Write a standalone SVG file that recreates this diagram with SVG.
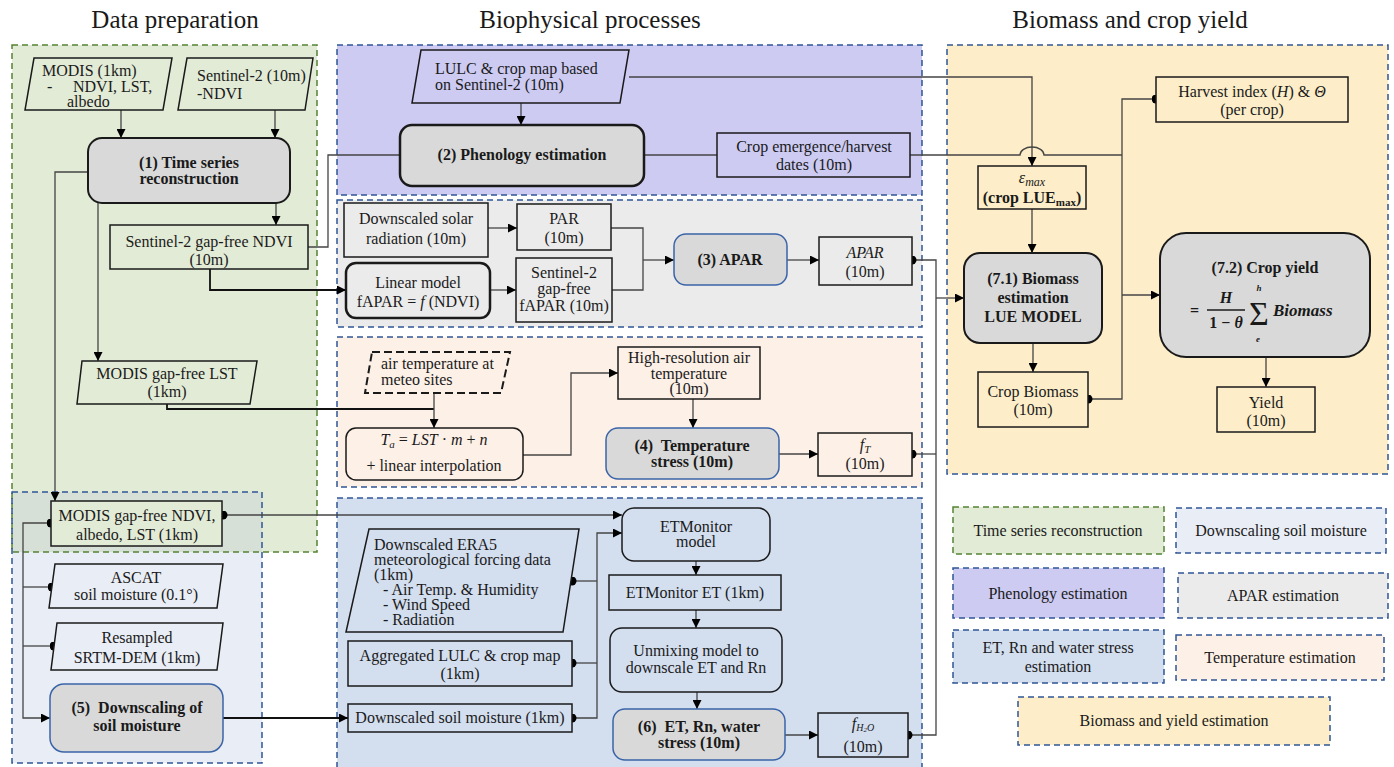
<svg xmlns="http://www.w3.org/2000/svg" width="1394" height="767" viewBox="0 0 1394 767">
<defs>
<style>
text{font-family:"Liberation Serif","Times New Roman",serif;font-size:16px;fill:#1a1a1a}
.hd{font-size:25px}
.c{text-anchor:middle}
.b{font-weight:bold}
.i{font-style:italic}
.grp{stroke-dasharray:6 4;stroke-width:1.5}
.gb{stroke:#2f5597}
.gg{stroke:#548235}
.nd{stroke:#1a1a1a;stroke-width:1.5}
.pr{fill:#d9d9d9;stroke:#1a1a1a;stroke-width:2}
.pb{fill:#d9d9d9;stroke:#3a64a8;stroke-width:1.5}
.cn{fill:none;stroke:#444;stroke-width:1.3}
.ck{fill:none;stroke:#111;stroke-width:1.8}
.green{fill:#e2ebd6}.soil{fill:#e9edf5}.purp{fill:#cdcbf2}.grey{fill:#ebebeb}.peach{fill:#fdf0e7}.etb{fill:#d3deef}.yel{fill:#fdeec9}
</style>
<marker id="arr" viewBox="0 0 10 10" refX="10" refY="5" markerWidth="10" markerHeight="9" markerUnits="userSpaceOnUse" orient="auto"><path d="M0,0 L10,5 L0,10 z" fill="#000"/></marker>
<marker id="dot" viewBox="0 0 10 10" refX="5" refY="5" markerWidth="9" markerHeight="9" markerUnits="userSpaceOnUse"><circle cx="5" cy="5" r="5" fill="#000"/></marker>
</defs>
<rect width="1394" height="767" fill="#fff"/>

<g id="headers">
<text class="hd c" x="175" y="28">Data preparation</text>
<text class="hd c" x="590" y="28">Biophysical processes</text>
<text class="hd c" x="1130" y="28">Biomass and crop yield</text>
</g>

<g id="groups">
<rect class="green" x="12" y="45" width="305" height="507"/>
<rect class="soil" x="12" y="552" width="250" height="211"/>
<rect x="12" y="492" width="250" height="60" fill="#d6e0d6"/>
<rect class="green grp gg" x="12" y="45" width="305" height="507" fill-opacity="0"/>
<rect class="grp gb" x="12" y="492" width="250" height="271" fill="none"/>
<rect class="purp grp gb" x="337" y="45" width="585" height="150"/>
<rect class="grey grp gb" x="337" y="200" width="585" height="127"/>
<rect class="peach grp gb" x="337" y="337" width="585" height="150"/>
<rect class="etb grp gb" x="337" y="498" width="585" height="280"/>
<rect class="yel grp gb" x="947" y="45" width="441" height="429"/>
</g>

<g id="connectors">
<path class="cn" d="M121 110V138" marker-end="url(#arr)"/>
<path class="cn" d="M275 110V138" marker-end="url(#arr)"/>
<path class="cn" d="M276 203V225" marker-end="url(#arr)"/>
<path class="cn" d="M88 172H55V501" marker-end="url(#arr)"/>
<path class="cn" d="M98 203V361" marker-end="url(#arr)"/>
<path class="ck" d="M167 404V409H434"/>
<path class="cn" d="M434 393V428" marker-end="url(#arr)"/>
<path class="cn" d="M308 247H328V155H400"/>
<path class="ck" d="M210 269V290H346" marker-end="url(#arr)"/>
<path class="cn" d="M521 103V125" marker-end="url(#arr)"/>
<path class="cn" d="M629 77H1032V166" marker-end="url(#arr)"/>
<path class="cn" d="M644 155H717"/>
<path class="cn" d="M910 155H1020A12 8 0 0 1 1044 155H1122"/>
<path class="cn" d="M1156 99H1122V399H1088" marker-start="url(#dot)" marker-end="url(#dot)"/>
<path class="cn" d="M1122 295H1160" marker-end="url(#arr)"/>
<path class="cn" d="M1032 209V253" marker-end="url(#arr)"/>
<path class="cn" d="M1033 343V372" marker-end="url(#arr)"/>
<path class="cn" d="M1266 357V387" marker-end="url(#arr)"/>
<path class="cn" d="M912 260H936V735H908" marker-start="url(#dot)" marker-end="url(#dot)"/>
<path class="cn" d="M912 454H936" marker-start="url(#dot)"/>
<path class="cn" d="M936 298H964" marker-end="url(#arr)"/>
<path class="cn" d="M488 228H517" marker-end="url(#arr)"/>
<path class="cn" d="M490 290H516" marker-end="url(#arr)"/>
<path class="cn" d="M611 228H643V290H612"/>
<path class="cn" d="M643 260H674" marker-end="url(#arr)"/>
<path class="cn" d="M787 260H819" marker-end="url(#arr)"/>
<path class="cn" d="M523 455H571V373H618" marker-end="url(#arr)"/>
<path class="cn" d="M693 399V428" marker-end="url(#arr)"/>
<path class="cn" d="M779 454H818" marker-end="url(#arr)"/>
<path class="cn" d="M223 515H622" marker-start="url(#dot)" marker-end="url(#arr)"/>
<path class="cn" d="M572 581H597" marker-start="url(#dot)"/>
<path class="cn" d="M572 663H597" marker-start="url(#dot)"/>
<path class="cn" d="M572 718H597V533H622" marker-start="url(#dot)" marker-end="url(#arr)"/>
<path class="ck" d="M223 718H348" marker-end="url(#arr)"/>
<path class="cn" d="M696 561V575" marker-end="url(#arr)"/>
<path class="cn" d="M696 610V628" marker-end="url(#arr)"/>
<path class="cn" d="M697 692V709" marker-end="url(#arr)"/>
<path class="cn" d="M785 735H818" marker-end="url(#arr)"/>
<path class="cn" d="M51 523H23V718H50" marker-start="url(#dot)" marker-end="url(#arr)"/>
<path class="cn" d="M23 587H52" marker-end="url(#dot)"/>
<path class="cn" d="M23 646H54" marker-end="url(#dot)"/>
</g>

<g id="n-modis">
<polygon class="green nd" points="34,58 172,58 163,110 25,110"/>
<text x="42" y="76">MODIS (1km)</text>
<text x="47" y="92">-</text><text x="73" y="92">NDVI, LST,</text>
<text x="67" y="107">albedo</text>
</g>
<g id="n-sentinel2">
<polygon class="green nd" points="187,58 313,58 305,110 178,110"/>
<text x="197" y="81">Sentinel-2 (10m)</text>
<text x="197" y="99">-NDVI</text>
</g>
<g id="n-ts">
<rect class="pr" x="88" y="138" width="202" height="65" rx="14"/>
<text class="c b" x="189" y="168">(1) Time series</text>
<text class="c b" x="189" y="184">reconstruction</text>
</g>
<g id="n-s2ndvi">
<rect class="green nd" x="110" y="225" width="198" height="44"/>
<text class="c" x="209" y="247">Sentinel-2 gap-free NDVI</text>
<text class="c" x="209" y="265">(10m)</text>
</g>
<g id="n-lst">
<polygon class="green nd" points="82,361 257,361 250,404 77,404"/>
<text class="c" x="167" y="379">MODIS gap-free LST</text>
<text class="c" x="167" y="397">(1km)</text>
</g>
<g id="n-modisndvi">
<rect class="green nd" x="51" y="501" width="171" height="45"/>
<text class="c" x="137" y="521">MODIS gap-free NDVI,</text>
<text class="c" x="137" y="540">albedo, LST (1km)</text>
</g>
<g id="n-ascat">
<polygon class="soil nd" points="55,564 223,564 217,608 49,608"/>
<text class="c" x="136" y="583">ASCAT</text>
<text class="c" x="136" y="600">soil moisture (0.1°)</text>
</g>
<g id="n-srtm">
<polygon class="soil nd" points="57,623 223,623 217,670 51,670"/>
<text class="c" x="137" y="643">Resampled</text>
<text class="c" x="137" y="663">SRTM-DEM (1km)</text>
</g>
<g id="n-dssm">
<rect class="pb" x="50" y="684" width="173" height="68" rx="14"/>
<text class="c b" x="137" y="713" xml:space="preserve">(5)  Downscaling of</text>
<text class="c b" x="137" y="731">soil moisture</text>
</g>

<g id="n-lulc">
<polygon class="purp nd" points="421,50 629,50 620,103 412,103"/>
<text x="435" y="74">LULC &amp; crop map based</text>
<text x="435" y="90">on Sentinel-2 (10m)</text>
</g>
<g id="n-pheno">
<rect class="pr" x="400" y="125" width="244" height="61" rx="12" style="stroke-width:2.5"/>
<text class="c b" x="522" y="160">(2) Phenology estimation</text>
</g>
<g id="n-cropdates">
<rect class="purp nd" x="717" y="133" width="193" height="44"/>
<text class="c" x="814" y="152">Crop emergence/harvest</text>
<text class="c" x="814" y="170">dates (10m)</text>
</g>

<g id="n-dsr">
<rect class="grey nd" x="344" y="203" width="144" height="54"/>
<text class="c" x="416" y="224">Downscaled solar</text>
<text class="c" x="416" y="244">radiation (10m)</text>
</g>
<g id="n-par">
<rect class="grey nd" x="517" y="204" width="94" height="46"/>
<text class="c" x="564" y="224">PAR</text>
<text class="c" x="564" y="243">(10m)</text>
</g>
<g id="n-linear">
<rect class="grey" x="346" y="263" width="144" height="55" rx="10" style="stroke:#1a1a1a;stroke-width:2.5"/>
<text class="c" x="418" y="288">Linear model</text>
<text class="c" x="418" y="307">fAPAR = <tspan class="i">f</tspan> (NDVI)</text>
</g>
<g id="n-fapar">
<rect class="grey nd" x="516" y="258" width="96" height="64"/>
<text class="c" x="564" y="278">Sentinel-2</text>
<text class="c" x="564" y="294">gap-free</text>
<text class="c" x="564" y="311">fAPAR (10m)</text>
</g>
<g id="n-aparproc">
<rect class="pb" x="674" y="234" width="113" height="51" rx="12"/>
<text class="c b" x="730" y="265">(3) APAR</text>
</g>
<g id="n-apar">
<rect class="grey nd" x="819" y="237" width="93" height="48"/>
<text class="c i" x="865" y="258">APAR</text>
<text class="c" x="865" y="277">(10m)</text>
</g>

<g id="n-airtemp">
<polygon class="peach" points="372,352 510,352 501,393 365,393" style="stroke:#1a1a1a;stroke-width:2;stroke-dasharray:8 4"/>
<text x="381" y="369">air temperature at</text>
<text x="381" y="385">meteo sites</text>
</g>
<g id="n-ta">
<rect class="peach nd" x="346" y="428" width="177" height="52" rx="10"/>
<text class="c" x="434" y="445"><tspan class="i">T</tspan><tspan class="i" font-size="11" dy="3">a</tspan><tspan dy="-3"> = </tspan><tspan class="i">LST</tspan> · <tspan class="i">m</tspan> + <tspan class="i">n</tspan></text>
<text class="c" x="434" y="471">+ linear interpolation</text>
</g>
<g id="n-hires">
<rect class="peach nd" x="618" y="347" width="142" height="52"/>
<text class="c" x="689" y="363">High-resolution air</text>
<text class="c" x="689" y="379">temperature</text>
<text class="c" x="689" y="394">(10m)</text>
</g>
<g id="n-tstress">
<rect class="pb" x="606" y="428" width="173" height="51" rx="12"/>
<text class="c b" x="692" y="451" xml:space="preserve">(4)  Temperature</text>
<text class="c b" x="692" y="467">stress (10m)</text>
</g>
<g id="n-ft">
<rect class="peach nd" x="818" y="433" width="94" height="43"/>
<text class="c" x="865" y="450"><tspan class="i">f</tspan><tspan class="i" font-size="11" dy="3">T</tspan></text>
<text class="c" x="865" y="469">(10m)</text>
</g>

<g id="n-etmodel">
<rect class="etb nd" x="622" y="508" width="148" height="53" rx="12"/>
<text class="c" x="696" y="532">ETMonitor</text>
<text class="c" x="696" y="547">model</text>
</g>
<g id="n-era5">
<polygon class="etb nd" points="369,529 579,529 563,632 346,632"/>
<text x="374" y="550">Downscaled ERA5</text>
<text x="374" y="565">meteorological forcing data</text>
<text x="374" y="580">(1km)</text>
<text x="383" y="595">- Air Temp. &amp; Humidity</text>
<text x="383" y="610">- Wind Speed</text>
<text x="383" y="625">- Radiation</text>
</g>
<g id="n-agglulc">
<rect class="etb nd" x="348" y="641" width="224" height="45"/>
<text class="c" x="460" y="661">Aggregated LULC &amp; crop map</text>
<text class="c" x="460" y="679">(1km)</text>
</g>
<g id="n-dssm1km">
<rect class="etb nd" x="348" y="704" width="224" height="28"/>
<text class="c" x="460" y="723">Downscaled soil moisture (1km)</text>
</g>
<g id="n-etmet">
<rect class="etb nd" x="609" y="575" width="172" height="35"/>
<text class="c" x="695" y="598">ETMonitor ET (1km)</text>
</g>
<g id="n-unmix">
<rect class="etb nd" x="610" y="628" width="172" height="64" rx="12"/>
<text class="c" x="696" y="656">Unmixing model to</text>
<text class="c" x="696" y="673">downscale ET and Rn</text>
</g>
<g id="n-etstress">
<rect class="pb" x="613" y="709" width="172" height="51" rx="12"/>
<text class="c b" x="699" y="732" xml:space="preserve">(6)  ET, Rn, water</text>
<text class="c b" x="699" y="748">stress (10m)</text>
</g>
<g id="n-fh2o">
<rect class="etb nd" x="818" y="713" width="90" height="44"/>
<text class="c" x="863" y="729"><tspan class="i">f</tspan><tspan class="i" font-size="10" dy="2">H</tspan><tspan class="i" font-size="7" dy="1">2</tspan><tspan class="i" font-size="10" dy="-1">O</tspan></text>
<text class="c" x="863" y="752">(10m)</text>
</g>

<g id="n-harvest">
<rect class="yel nd" x="1156" y="77" width="192" height="45"/>
<text class="c" x="1252" y="97">Harvest index (<tspan class="i">H</tspan>) &amp; <tspan class="i">Θ</tspan></text>
<text class="c" x="1252" y="115">(per crop)</text>
</g>
<g id="n-eps">
<rect class="yel nd" x="978" y="166" width="108" height="43"/>
<text class="c" x="1032" y="183"><tspan class="i">ε</tspan><tspan class="i" font-size="12" dy="3">max</tspan></text>
<text class="c b" x="1032" y="203">(crop LUE<tspan font-size="11" dy="3">max</tspan><tspan dy="-3">)</tspan></text>
</g>
<g id="n-biomass">
<rect class="pr" x="964" y="253" width="138" height="90" rx="16"/>
<text class="c b" x="1033" y="284">(7.1) Biomass</text>
<text class="c b" x="1033" y="303">estimation</text>
<text class="c b" x="1033" y="322">LUE MODEL</text>
</g>
<g id="n-cropbiomass">
<rect class="yel nd" x="978" y="372" width="110" height="55"/>
<text class="c" x="1033" y="397">Crop Biomass</text>
<text class="c" x="1033" y="415">(10m)</text>
</g>
<g id="n-yieldproc">
<rect class="pr" x="1160" y="233" width="210" height="124" rx="26"/>
<text class="c b" x="1265" y="273">(7.2) Crop yield</text>
<text x="1190" y="316" class="b">=</text>
<text class="c b i" x="1226" y="303">H</text>
<line x1="1207" y1="310" x2="1245" y2="310" stroke="#1a1a1a" stroke-width="1.3"/>
<text class="c b" x="1226" y="328">1 − <tspan class="i">θ</tspan></text>
<text class="c" x="1259" y="325" style="font-size:34px">Σ</text>
<text class="c b i" x="1259" y="291" style="font-size:9px">h</text>
<text class="c b i" x="1258" y="342" style="font-size:9px">e</text>
<text class="b i" x="1273" y="316" style="font-size:17px">Biomass</text>
</g>
<g id="n-yield">
<rect class="yel nd" x="1217" y="387" width="98" height="45"/>
<text class="c" x="1266" y="408">Yield</text>
<text class="c" x="1266" y="426">(10m)</text>
</g>

<g id="legend">
<rect class="green grp gg" x="953" y="507" width="211" height="47"/>
<text class="c" x="1058" y="536">Time series reconstruction</text>
<rect class="soil grp gb" x="1176" y="508" width="210" height="45"/>
<text class="c" x="1281" y="536">Downscaling soil moisture</text>
<rect class="purp grp gb" x="953" y="568" width="211" height="50"/>
<text class="c" x="1058" y="599">Phenology estimation</text>
<rect class="grey grp gb" x="1178" y="573" width="210" height="45"/>
<text class="c" x="1283" y="601">APAR estimation</text>
<rect class="etb grp gb" x="953" y="630" width="211" height="53"/>
<text class="c" x="1058" y="653">ET, Rn and water stress</text>
<text class="c" x="1058" y="672">estimation</text>
<rect class="peach grp gb" x="1176" y="635" width="208" height="45"/>
<text class="c" x="1280" y="663">Temperature estimation</text>
<rect class="yel grp gb" x="1018" y="697" width="312" height="48"/>
<text class="c" x="1174" y="726">Biomass and yield estimation</text>
</g>
</svg>
